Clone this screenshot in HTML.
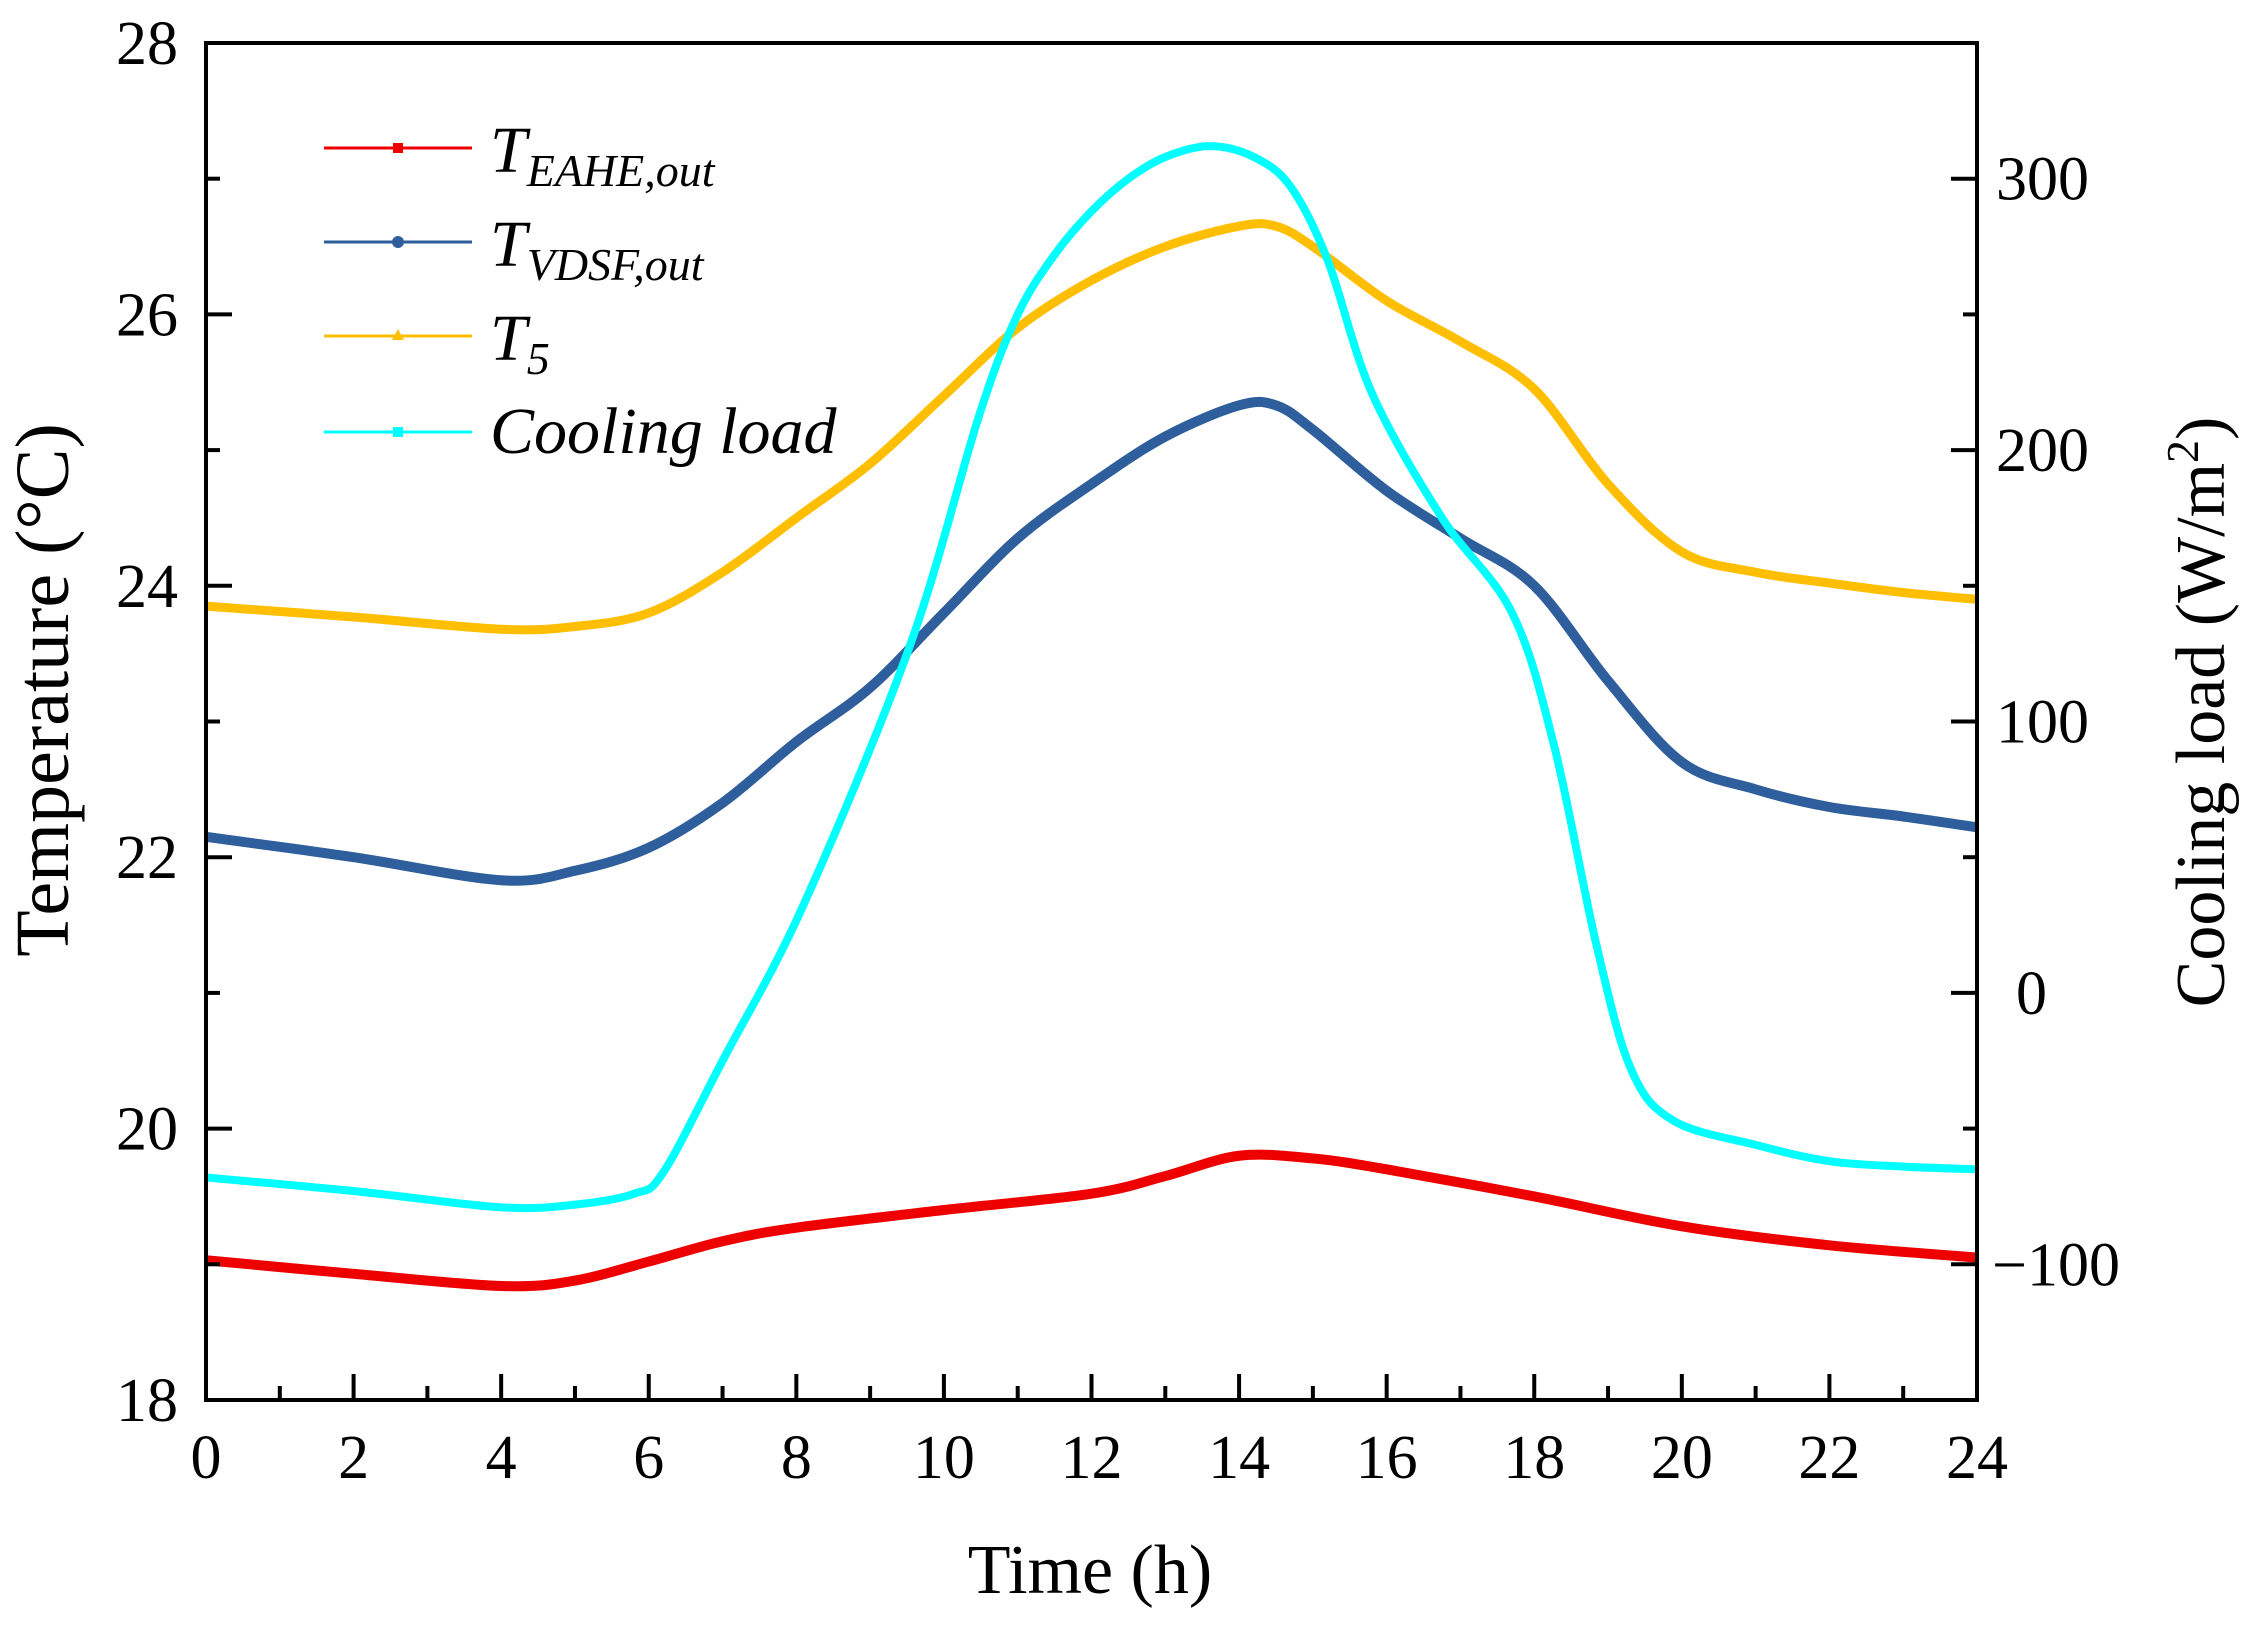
<!DOCTYPE html>
<html><head><meta charset="utf-8"><style>
html,body{margin:0;padding:0;background:#fff;}
svg{display:block;font-family:"Liberation Serif",serif;}
</style></head><body>
<svg id="chart" width="2258" height="1628" viewBox="0 0 2258 1628">
<g id="series"></g>
<rect x="206" y="43" width="1771" height="1357" fill="none" stroke="#000" stroke-width="4"/>
<g id="axes"></g>
<g font-style="italic" font-size="66">
  <g>
    <line x1="324" y1="148" x2="472" y2="148" stroke="#ee0000" stroke-width="3"/><rect x="393" y="143" width="10" height="10" fill="#ee0000"/>
    <text x="490" y="172">T<tspan font-size="46" dy="14">EAHE,out</tspan></text>
  </g>
  <g>
    <line x1="324" y1="242" x2="472" y2="242" stroke="#2e5f9c" stroke-width="3"/><circle cx="398" cy="242" r="6" fill="#2e5f9c"/>
    <text x="490" y="266">T<tspan font-size="46" dy="14">VDSF,out</tspan></text>
  </g>
  <g>
    <line x1="324" y1="336" x2="472" y2="336" stroke="#ffbf00" stroke-width="3"/><polygon points="398,329 404,340 392,340" fill="#ffbf00"/>
    <text x="490" y="360">T<tspan font-size="46" dy="14">5</tspan></text>
  </g>
  <g>
    <line x1="324" y1="432" x2="472" y2="432" stroke="#00ffff" stroke-width="3"/><rect x="393" y="427" width="10" height="10" fill="#00ffff"/>
    <text x="490" y="453">Cooling load</text>
  </g>
</g>
<text x="1090" y="1593" text-anchor="middle" font-size="70">Time (h)</text>
<text transform="translate(68,690) rotate(-90)" text-anchor="middle" font-size="76">Temperature (°C)</text>
<text transform="translate(2224,712) rotate(-90)" text-anchor="middle" font-size="70">Cooling load (W/m<tspan font-size="46" dy="-26">2</tspan><tspan dy="26">)</tspan></text>
</svg>
<script>
const eaheX=[0,2,4,5,6,7,8,10,12,13,14,15,16,18,20,22,24];
const eaheY=[19.03,18.93,18.84,18.88,19.02,19.17,19.27,19.4,19.52,19.65,19.8,19.78,19.7,19.5,19.28,19.14,19.05];
const vdsfX=[0,2,4,5,6,7,8,9,10,11,12,13,14,14.5,15,16,17,18,19,20,21,22,23,24];
const vdsfY=[22.15,22.0,21.83,21.9,22.07,22.4,22.85,23.25,23.8,24.35,24.75,25.1,25.33,25.33,25.15,24.7,24.35,24.0,23.3,22.7,22.5,22.37,22.3,22.22];
const t5X=[0,2,4,5,6,7,8,9,10,11,12,13,14,14.5,15,16,17,18,19,20,21,22,23,24];
const t5Y=[23.85,23.77,23.68,23.7,23.8,24.1,24.5,24.9,25.4,25.9,26.25,26.5,26.65,26.65,26.5,26.1,25.8,25.45,24.75,24.25,24.1,24.02,23.95,23.9];
const coolX=[0,2,4,5,5.8,6.2,7,8.09,9.54,10.48,11,11.5,12,12.5,13,13.6,14.2,14.7,15.2,15.8,16.75,17.7,18.27,18.84,19.31,19.88,21,22,23,24];
const coolY=[-68,-73,-79,-78,-74,-66,-25,32,128,213,250,272,288,300,308,312,308,297,270,221,175,140,91,18,-28,-47,-56,-62,-64,-65];
const xTicks=[0,2,4,6,8,10,12,14,16,18,20,22,24];
const yLeftTicks=[18,20,22,24,26,28];
const yRightTicks=[-100,0,100,200,300];

const L=206,R=1977,T=43,B=1400;
const sx=v=>L+(v/24)*(R-L);
const syL=v=>B-(v-18)/10*(B-T);
const syR=v=>B-(v+150)/500*(B-T);
const NS='http://www.w3.org/2000/svg';
function mk(tag,attrs,parent){const e=document.createElementNS(NS,tag);for(const k in attrs)e.setAttribute(k,attrs[k]);parent.appendChild(e);return e;}
function smoothPath(px,py){
  let d=`M${px[0]},${py[0]}`;
  for(let i=0;i<px.length-1;i++){
    const x0=px[Math.max(i-1,0)],y0=py[Math.max(i-1,0)],x1=px[i],y1=py[i],x2=px[i+1],y2=py[i+1],x3=px[Math.min(i+2,px.length-1)],y3=py[Math.min(i+2,px.length-1)];
    const c1x=x1+(x2-x0)/6,c1y=y1+(y2-y0)/6,c2x=x2-(x3-x1)/6,c2y=y2-(y3-y1)/6;
    d+=` C${c1x},${c1y} ${c2x},${c2y} ${x2},${y2}`;
  }
  return d;
}
const sg=document.getElementById('series');
function series(xs,ys,fy,color,w,name){
  const p=mk('path',{d:smoothPath(xs.map(sx),ys.map(fy)),fill:'none',stroke:color,'stroke-width':w,'stroke-linejoin':'round'},sg);
  
  
}
series(t5X,t5Y,syL,'#ffbf00',9,'line-t5');
series(vdsfX,vdsfY,syL,'#2e5f9c',10,'line-t-vdsf-out');
series(eaheX,eaheY,syL,'#ee0000',10,'line-t-eahe-out');
series(coolX,coolY,syR,'#00ffff',8,'line-cooling-load');

const ax=document.getElementById('axes');
for(let h=0;h<=24;h++){
  const maj=h%2===0;
  mk('line',{x1:sx(h),x2:sx(h),y1:B,y2:B-(maj?26:14),stroke:'#000','stroke-width':4},ax);
}
xTicks.forEach(v=>{
  const t=mk('text',{x:sx(v),y:1478,'text-anchor':'middle','font-size':62},ax);t.textContent=v;
  
  
});
for(let v=18;v<=28;v++){
  const maj=v%2===0;
  mk('line',{x1:L,x2:L+(maj?26:14),y1:syL(v),y2:syL(v),stroke:'#000','stroke-width':4},ax);
}
yLeftTicks.forEach(v=>{
  const t=mk('text',{x:178,y:syL(v)+21,'text-anchor':'end','font-size':62},ax);t.textContent=v;
  
  
});
for(let v=-150;v<=350;v+=50){
  const maj=v%100===0;
  mk('line',{x1:R,x2:R-(maj?26:14),y1:syR(v),y2:syR(v),stroke:'#000','stroke-width':4},ax);
}
yRightTicks.forEach(v=>{
  const t=mk('text',{x:v<0?1992:(v===0?2016:1996),y:syR(v)+21,'text-anchor':'start','font-size':62},ax);
  t.textContent=v<0?'\u2212'+Math.abs(v):v;
  
  
});
</script>
</body></html>
